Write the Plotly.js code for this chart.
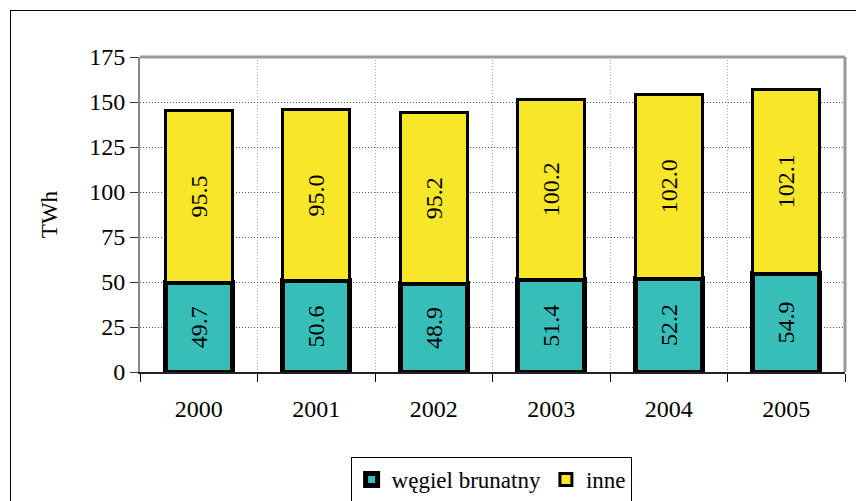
<!DOCTYPE html>
<html><head><meta charset="utf-8">
<script src="https://cdn.plot.ly/plotly-3.0.1.min.js"></script>
<style>
body{margin:0;padding:0;background:#fff;}
#wrap{position:relative;width:856px;height:501px;overflow:hidden;}
#chart{position:absolute;left:0;top:0;width:856px;height:501px;}
#frame{position:absolute;left:10px;top:10px;width:900px;height:600px;border:1.5px solid #000;pointer-events:none;}
</style></head>
<body>
<div id="wrap"><div id="chart"></div><div id="frame"></div></div>
<script>
const years = ['2000','2001','2002','2003','2004','2005'];
const wegiel = [49.7, 50.6, 48.9, 51.4, 52.2, 54.9];
const inne = [95.5, 95.0, 95.2, 100.2, 102.0, 102.1];
const yTicks = [0, 25, 50, 75, 100, 125, 150, 175];
const seriesNames = ['węgiel brunatny', 'inne'];

const font = '"Liberation Serif", "Times New Roman", serif';
const traces = [
  {type:'bar', name:seriesNames[0], x:years, y:wegiel,
   marker:{color:'#38BEB9', line:{color:'#000', width:5}},
   texttemplate:'%{y:.1f}', textposition:'inside', textangle:-90, insidetextanchor:'middle',
   textfont:{family:font, size:24, color:'#000'}, hoverinfo:'none'},
  {type:'bar', name:seriesNames[1], x:years, y:inne,
   marker:{color:'#F8E628', line:{color:'#000', width:3}},
   texttemplate:'%{y:.1f}', textposition:'inside', textangle:-90, insidetextanchor:'middle',
   textfont:{family:font, size:24, color:'#000'}, hoverinfo:'none'}
];
const layout = {
  width:856, height:501, barmode:'stack', bargap:0.43,
  margin:{l:140, r:11, t:57, b:129, autoexpand:false},
  paper_bgcolor:'#fff', plot_bgcolor:'#fff',
  font:{family:font, size:24, color:'#000'},
  xaxis:{type:'category', tickson:'boundaries', ticks:'outside', ticklen:8, tickcolor:'#000',
    showgrid:true, gridcolor:'#aaa', griddash:'1px,2px', gridwidth:1,
    showline:true, linecolor:'#222', linewidth:2, ticklabelstandoff:14,
    tickfont:{family:font, size:24}},
  yaxis:{range:[0,175], tickvals:yTicks, ticks:'outside', ticklen:8, tickcolor:'#333',
    showgrid:true, gridcolor:'#555', griddash:'1px,2px', gridwidth:1, zeroline:false,
    showline:true, linecolor:'#888', linewidth:2,
    title:{text:'TWh', font:{family:font, size:23}, standoff:25},
    tickfont:{family:font, size:24}},
  shapes:[
    {type:'line', xref:'paper', yref:'paper', x0:0, x1:1, y0:1, y1:1, line:{color:'#999', width:3}},
    {type:'line', xref:'paper', yref:'paper', x0:1, x1:1, y0:0, y1:1, line:{color:'#999', width:3}}
  ],
  showlegend:true,
  legend:{orientation:'h', x:0.498, xanchor:'center', y:-0.27, yanchor:'top',
    bordercolor:'#000', borderwidth:1, bgcolor:'#fff',
    font:{family:font, size:23}, traceorder:'normal', itemwidth:30}
};
Plotly.newPlot('chart', traces, layout, {displayModeBar:false, staticPlot:true});
</script>
</body></html>
